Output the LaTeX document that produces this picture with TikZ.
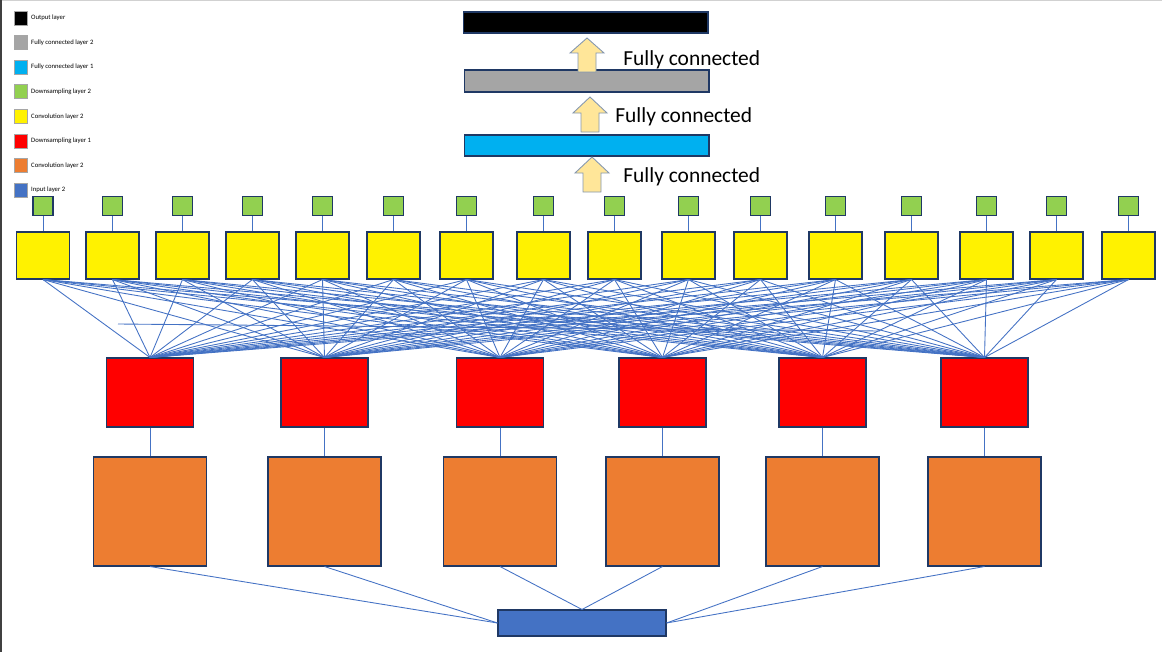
\documentclass[tikz,border=0pt]{standalone}
\usepackage{fontspec}
\setmainfont{Carlito}
\definecolor{edge}{HTML}{1F3864}
\definecolor{wire}{HTML}{4472C4}
\definecolor{convA}{HTML}{ED7D31}
\definecolor{downB}{HTML}{92D050}
\definecolor{fcA}{HTML}{00B0F0}
\definecolor{fcB}{HTML}{A5A5A5}
\definecolor{arrowfill}{HTML}{FFE699}
\definecolor{arrowedge}{HTML}{8497B0}
\begin{document}
\begin{tikzpicture}[x=0.02cm,y=-0.02cm,
    box/.style={draw=edge,line width=0.6pt,inner sep=0pt},
    key/.style={draw=black!35,line width=0.4pt,inner sep=0pt,
        minimum width=0.26cm,minimum height=0.28cm},
    link/.style={wire,line width=0.5pt}]
    \useasboundingbox (0,0) rectangle (1162,652);
    \draw[black!18,line width=0.6pt] (0,0.5) -- (1162,0.5);
    \draw[black!75,line width=1pt] (0.75,0) -- (0.75,652);
    % legend
    \foreach \c/\t [count=\i] in {black/Output layer,
        fcB/Fully connected layer 2,fcA/Fully connected layer 1,
        downB/Downsampling layer 2,yellow/Convolution layer 2,
        red/Downsampling layer 1,convA/Convolution layer 2,
        wire/Input layer 2}
    \node[key,fill=\c,label={[font=\fontsize{3.8}{4.5}\selectfont,
        inner sep=0pt,xshift=2pt]right:\t}] (k\i)
        at (20.5,{18+24.6*(\i-1)}) {};
    % fully connected part
    \node[box,fill=black,minimum width=4.9cm,minimum height=0.42cm]
        (out) at (585.5,22.5) {};
    \node[box,fill=fcB,minimum width=4.9cm,minimum height=0.44cm]
        (fc2) at (586.5,81) {};
    \node[box,fill=fcA,minimum width=4.9cm,minimum height=0.42cm]
        (fc1) at (586.5,145.5) {};
    \foreach \x/\t/\h/\b in {587/38/53/72,590/97/113/132,592/157/173/192}
    \filldraw[fill=arrowfill,draw=arrowedge,line width=0.5pt]
        (\x,\t) -- (\x+17,\h) -- (\x+9,\h) -- (\x+9,\b)
        -- (\x-9,\b) -- (\x-9,\h) -- (\x-17,\h) -- cycle;
    \foreach \x/\y [count=\i] in {623/60,615/117,623/177}
    \node[anchor=west,inner sep=0pt,font=\fontsize{12.2}{14}\selectfont]
        (lbl\i) at (\x,\y) {Fully connected};
    % convolution 2 and downsampling 2
    \foreach \x [count=\i] in {43,112.5,182.5,252.5,322.5,393.5,466.5,
        543.5,614.5,688.5,760.5,835.5,911.5,986.5,1056.5,1128.5}
    {
        \node[box,fill=yellow,minimum width=1.06cm,minimum height=0.94cm]
            (y\i) at (\x,255.5) {};
        \node[box,fill=downB,minimum width=0.4cm,minimum height=0.38cm]
            (g\i) at (\x,206) {};
        \draw[link] (g\i.south) -- (y\i.north);
    }
    % downsampling 1, convolution 1 and input
    \node[box,fill=wire,minimum width=3.36cm,minimum height=0.52cm]
        (inp) at (582,623) {};
    \foreach \x/\a [count=\j] in {150/west,324.5/west,500/north,
        662.5/north,822.5/east,984.5/east}
    {
        \node[box,fill=red,minimum width=1.74cm,minimum height=1.38cm]
            (r\j) at (\x,392.5) {};
        \node[box,fill=convA,minimum width=2.26cm,minimum height=2.18cm]
            (o\j) at (\x,511.5) {};
        \draw[link] (r\j.south) -- (o\j.north);
        \draw[link] (o\j.south) -- (inp.\a);
    }
    \foreach \i in {1,...,16}
    \foreach \j in {1,...,6}
    \draw[link] (y\i.south) -- (r\j.north);
    \coordinate (s1) at (118,324);
    \coordinate (s2) at (880,331);
    \draw[link] (s1) -- (s2);
\end{tikzpicture}
\end{document}
